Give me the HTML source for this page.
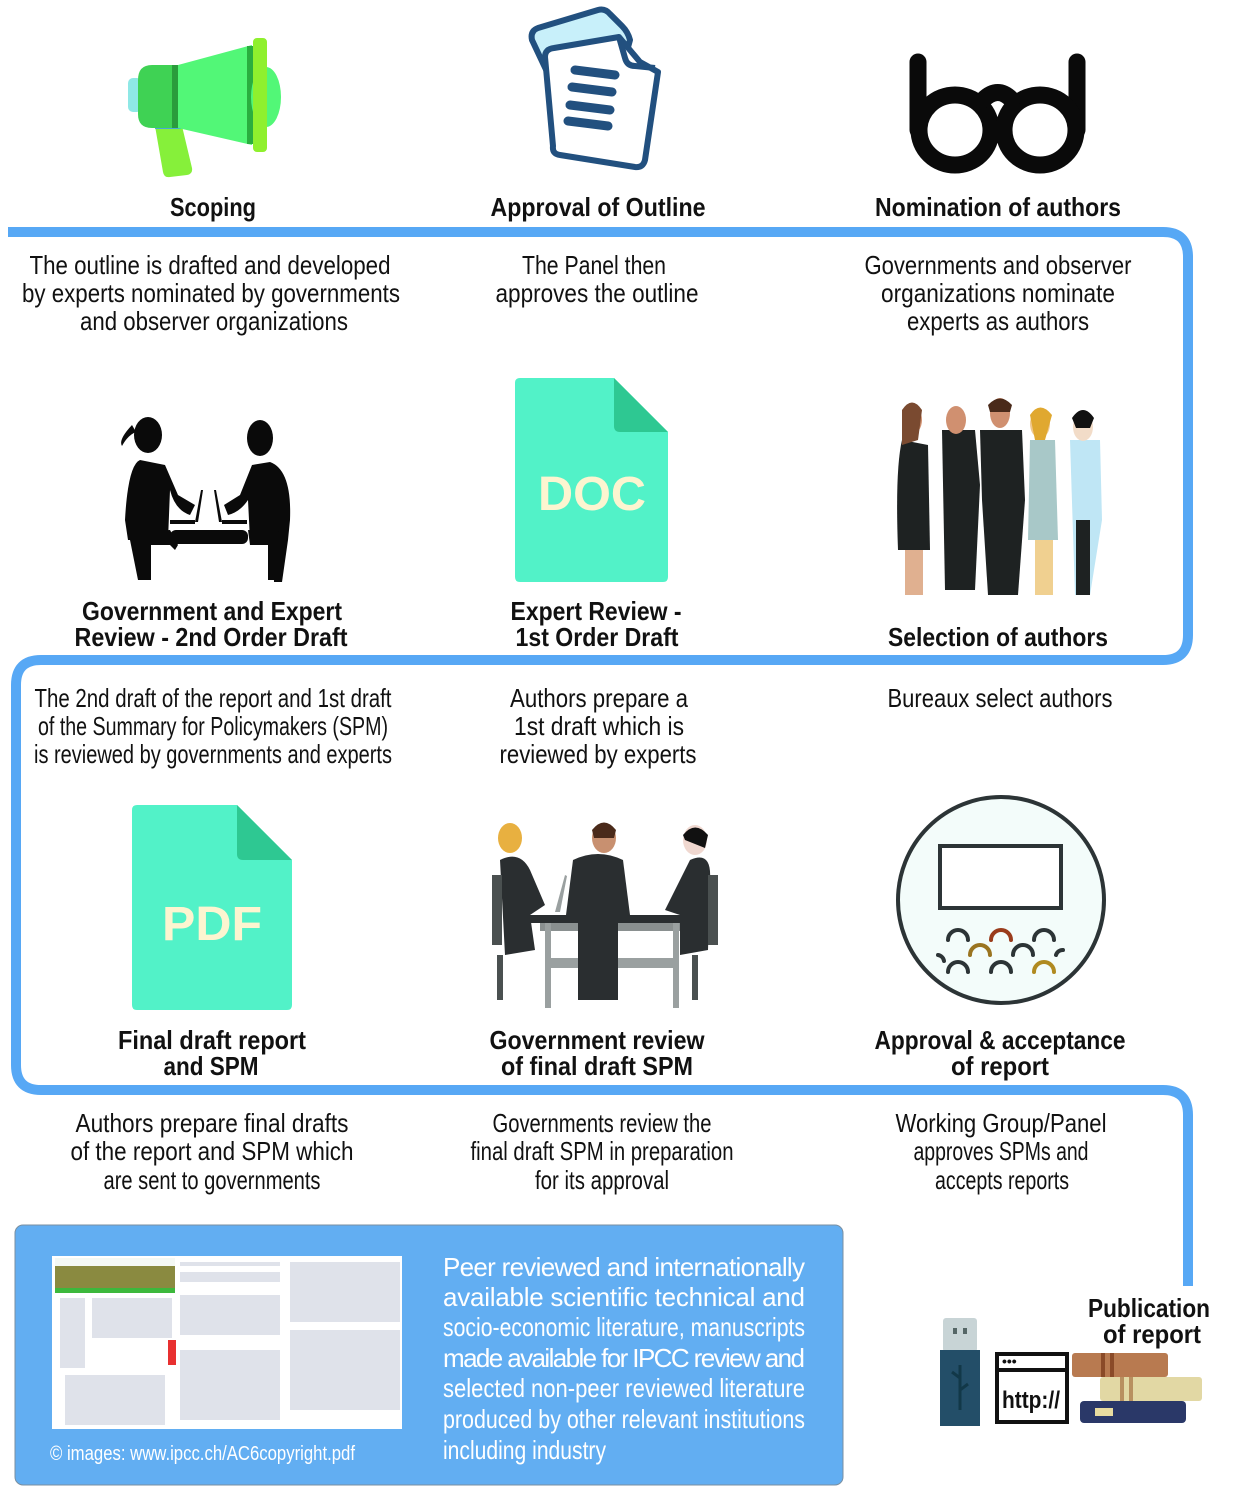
<!DOCTYPE html>
<html><head><meta charset="utf-8"><style>
html,body{margin:0;padding:0;background:#fff}
svg{display:block}
text{font-family:"Liberation Sans",sans-serif;fill:#111}
.d{font-size:26px}
.b{font-size:26px;font-weight:bold}
.w{font-size:26px;fill:#fff}
</style></head><body>
<svg width="1240" height="1488" viewBox="0 0 1240 1488" xmlns="http://www.w3.org/2000/svg">
<path d="M8,232 H1163 Q1188,232 1188,257 V635 Q1188,660 1163,660 H41 Q16,660 16,685 V1065 Q16,1090 41,1090 H1163 Q1188,1090 1188,1115 V1286" fill="none" stroke="#57a8f5" stroke-width="10"/>

<rect x="128" y="78" width="14" height="34" rx="5" fill="#8fe8e6"/>
<path d="M155,126 L182,126 L192,168 Q193,174 187,175 L170,177 Q164,178 163,172 Z" fill="#86f03a"/>
<rect x="155" y="124" width="26" height="5" fill="#4aa8d8"/>
<path d="M152,65 H177 V128 H152 Q138,128 138,114 V80 Q138,65 152,65 Z" fill="#3fd254"/>
<rect x="172" y="65" width="6" height="63" fill="#2a9c3c"/>
<path d="M178,65 L252,45 V145 L178,128 Z" fill="#52f777"/>
<rect x="247" y="46" width="6" height="98" fill="#2aae3f"/>
<ellipse cx="266" cy="97" rx="15" ry="30" fill="#52f777"/>
<rect x="253" y="38" width="14" height="114" rx="4" fill="#8ff02e"/>

<g stroke="#22507f" stroke-width="6" stroke-linejoin="round">
<path d="M538,28 L598,10 Q605,8 610,14 L622,26 Q628,32 630,40 L600,150 L565,110 L532,40 Q530,31 538,28 Z" fill="#c8f0fa"/>
<path d="M554,48 L619,37 L640,62 L658,72 L645,160 Q643,168 635,167 L560,155 Q552,154 553,146 L545,57 Q545,49 554,48 Z" fill="#fff"/>
<path d="M619,37 L625,58 Q627,66 635,66 L655,68" fill="none"/>
</g>
<g stroke="#22507f" stroke-width="9" stroke-linecap="round">
<line x1="575" y1="70" x2="615" y2="75"/>
<line x1="572" y1="87" x2="612" y2="92"/>
<line x1="570" y1="105" x2="610" y2="110"/>
<line x1="568" y1="121" x2="608" y2="126"/>
</g>

<g fill="none" stroke="#0a0a0a" stroke-width="17" stroke-linecap="round">
<line x1="918" y1="62" x2="918" y2="130"/>
<line x1="1077" y1="62" x2="1077" y2="130"/>
<ellipse cx="955" cy="130" rx="36" ry="35"/>
<ellipse cx="1040" cy="130" rx="36" ry="35"/>
<path d="M983,100 Q998,85 1012,100"/>
</g>

<g fill="#0a0a0a">
<ellipse cx="148" cy="435" rx="14" ry="18"/>
<path d="M132,425 Q118,440 122,446 Q128,435 136,432 Z"/>
<ellipse cx="260" cy="438" rx="13" ry="18"/>
<path d="M140,460 Q128,465 125,520 L128,540 L168,540 L170,490 Q175,510 190,515 L195,505 L178,495 L165,465 Z"/>
<path d="M130,540 L138,580 L146,580 L145,545 L170,545 L175,550 L178,545 L170,530 L130,532 Z"/>
<path d="M270,462 Q292,470 290,520 L288,540 L250,540 L248,500 Q240,512 228,515 L224,505 L240,495 L252,465 Z"/>
<path d="M288,540 L282,582 L274,582 L273,545 L250,545 L248,530 L288,532 Z"/>
<rect x="170" y="530" width="78" height="14" rx="6"/>
<rect x="170" y="520" width="25" height="4"/><rect x="222" y="520" width="25" height="4"/>
<path d="M195,522 L201,490 L203,490 L198,522 Z"/><path d="M222,522 L216,490 L214,490 L219,522 Z"/>
<rect x="145" y="545" width="6" height="35"/><rect x="268" y="545" width="6" height="35"/>
</g>

<path d="M520,378 H614 L668,432 V577 Q668,582 663,582 H520 Q515,582 515,577 V383 Q515,378 520,378 Z" fill="#52f2c8"/>
<path d="M614,378 L668,432 H620 Q614,432 614,426 Z" fill="#2ec892"/>
<text x="592" y="510" text-anchor="middle" style="font-size:48px;font-weight:bold;fill:#fcf5d0" textLength="108" lengthAdjust="spacingAndGlyphs">DOC</text>

<g>
<g fill="#1e2222">
<path d="M902,440 Q895,470 898,550 L930,550 L928,445 Z"/>
<path d="M942,430 L975,430 L980,485 L975,590 L945,590 Z"/>
<path d="M980,430 L1022,430 L1025,500 L1018,595 L988,595 L982,500 Z"/>
<path d="M1030,440 L1055,440 L1058,540 L1028,540 Z" fill="#a8c8c8"/>
<path d="M1070,440 L1100,440 L1102,520 L1090,595 L1075,595 Z" fill="#bfe6f5"/>
<rect x="1076" y="520" width="14" height="75"/>
<rect x="1035" y="540" width="18" height="55" fill="#f0d090"/>
<rect x="905" y="550" width="18" height="45" fill="#e0b090"/>
</g>
<g fill="#d09070">
<ellipse cx="912" cy="420" rx="10" ry="14"/><ellipse cx="956" cy="420" rx="10" ry="14"/>
<ellipse cx="1000" cy="413" rx="10" ry="15"/><ellipse cx="1040" cy="424" rx="10" ry="14" fill="#f0c890"/>
<ellipse cx="1083" cy="427" rx="10" ry="14" fill="#f2dcc8"/>
</g>
<path d="M902,410 Q912,395 922,410 L918,440 L902,445 Z" fill="#7a4a30"/>
<path d="M1030,415 Q1040,400 1052,415 L1045,440 L1035,440 Z" fill="#e0a830"/>
<path d="M1072,418 Q1083,402 1094,418 L1090,428 L1076,428 Z" fill="#111"/>
<path d="M988,405 Q1000,392 1012,405 L1010,412 L990,412 Z" fill="#4a2a1a"/>
</g>

<path d="M137,805 H237 L292,860 V1005 Q292,1010 287,1010 H137 Q132,1010 132,1005 V810 Q132,805 137,805 Z" fill="#52f2c8"/>
<path d="M237,805 L292,860 H243 Q237,860 237,854 Z" fill="#2ec892"/>
<text x="212" y="940" text-anchor="middle" style="font-size:48px;font-weight:bold;fill:#fcf5d0" textLength="100" lengthAdjust="spacingAndGlyphs">PDF</text>

<g>
<rect x="527" y="915" width="170" height="8" fill="#2a2e30"/>
<rect x="540" y="923" width="145" height="8" fill="#8a9090"/>
<rect x="545" y="923" width="6" height="85" fill="#9aa0a0"/><rect x="673" y="923" width="6" height="85" fill="#9aa0a0"/>
<rect x="545" y="958" width="134" height="10" fill="#9aa0a0"/>
<path d="M573,860 Q598,848 623,860 L630,915 L566,915 Z" fill="#2a2e30"/>
<rect x="578" y="915" width="40" height="85" fill="#2a2e30"/>
<ellipse cx="604" cy="838" rx="12" ry="15" fill="#c89070"/>
<path d="M592,830 Q604,815 616,830 L614,838 L594,838 Z" fill="#4a2a1a"/>
<path d="M500,860 Q520,850 530,870 L545,905 L530,915 L535,950 L505,955 Z" fill="#2a2e30"/>
<ellipse cx="510" cy="838" rx="12" ry="15" fill="#e8b040"/>
<rect x="492" y="875" width="10" height="70" fill="#4a5050"/>
<rect x="497" y="955" width="6" height="45" fill="#4a5050"/>
<path d="M690,860 Q712,850 710,880 L708,950 L680,955 L680,915 L665,910 Z" fill="#2a2e30"/>
<ellipse cx="695" cy="840" rx="12" ry="15" fill="#f0d8d0"/>
<path d="M683,835 Q695,820 708,835 L705,848 L685,840 Z" fill="#111"/>
<rect x="708" y="875" width="10" height="70" fill="#4a5050"/>
<rect x="692" y="955" width="6" height="45" fill="#4a5050"/>
<path d="M555,912 L565,875 L567,876 L560,912 Z" fill="#9aa0a0"/>
</g>

<circle cx="1001" cy="900" r="103" fill="#f3fcfa" stroke="#2c3436" stroke-width="4"/>
<rect x="940" y="846" width="121" height="62" fill="#fff" stroke="#2c3436" stroke-width="4"/>
<g fill="none" stroke-width="4" stroke-linecap="round">
<path d="M948,940 a10,10 0 0 1 20,0" stroke="#2c3436"/>
<path d="M991,940 a10,10 0 0 1 20,0" stroke="#9a3c1c"/>
<path d="M1034,940 a10,10 0 0 1 20,0" stroke="#2c3436"/>
<path d="M938,955 a7,7 0 0 1 6,6" stroke="#2c3436"/>
<path d="M970,955 a10,10 0 0 1 20,0" stroke="#9a7420"/>
<path d="M1013,955 a10,10 0 0 1 20,0" stroke="#2c3436"/>
<path d="M1056,955 a7,7 0 0 1 7,-5" stroke="#2c3436"/>
<path d="M948,972 a10,10 0 0 1 20,0" stroke="#2c3436"/>
<path d="M991,972 a10,10 0 0 1 20,0" stroke="#2c3436"/>
<path d="M1034,972 a10,10 0 0 1 20,0" stroke="#b08a20"/>
</g>

<rect x="15" y="1225" width="828" height="260" rx="8" fill="#62aef2" stroke="#7a8fa0" stroke-width="1"/>
<rect x="52" y="1256" width="350" height="173" fill="#fff"/>
<rect x="55" y="1258" width="120" height="8" fill="#f4f8f4"/>
<rect x="55" y="1266" width="120" height="22" fill="#8a8a40"/>
<rect x="55" y="1288" width="120" height="5" fill="#3cb83c"/>
<g fill="#dfe2ea">
<rect x="60" y="1298" width="25" height="70"/><rect x="92" y="1298" width="80" height="40"/>
<rect x="180" y="1262" width="100" height="4"/><rect x="180" y="1272" width="100" height="10"/>
<rect x="180" y="1295" width="100" height="40"/><rect x="180" y="1350" width="100" height="70"/>
<rect x="290" y="1262" width="110" height="60"/><rect x="290" y="1330" width="110" height="80"/>
<rect x="65" y="1375" width="100" height="50"/>
</g>
<rect x="168" y="1340" width="8" height="25" fill="#e83030"/>

<rect x="943" y="1318" width="34" height="34" rx="3" fill="#c8d4d6"/>
<rect x="953" y="1328" width="4" height="6" fill="#566"/><rect x="963" y="1328" width="4" height="6" fill="#566"/>
<rect x="940" y="1350" width="40" height="76" fill="#234e68"/>
<path d="M960,1365 V1410 M960,1378 l-8,-6 M960,1390 l8,-6" stroke="#123848" stroke-width="3" fill="none"/>
<rect x="997" y="1354" width="70" height="68" fill="#fff" stroke="#111" stroke-width="4"/>
<line x1="997" y1="1370" x2="1067" y2="1370" stroke="#111" stroke-width="4"/>
<text x="1002" y="1366" style="font-size:14px;font-weight:bold">•••</text>
<text x="1031" y="1408" text-anchor="middle" style="font-size:24px;font-weight:bold" textLength="58" lengthAdjust="spacingAndGlyphs">http://</text>
<rect x="1072" y="1353" width="96" height="24" rx="3" fill="#b87a50"/>
<rect x="1101" y="1353" width="4" height="24" fill="#8a4a28"/><rect x="1110" y="1353" width="4" height="24" fill="#8a4a28"/>
<rect x="1100" y="1377" width="102" height="24" rx="3" fill="#e2d8a4"/>
<rect x="1120" y="1377" width="4" height="24" fill="#b89060"/><rect x="1129" y="1377" width="4" height="24" fill="#b89060"/>
<rect x="1080" y="1401" width="106" height="22" rx="4" fill="#2a3868"/>
<rect x="1095" y="1408" width="18" height="8" fill="#e8dca0"/>

<text class="b" x="213" y="216" text-anchor="middle" textLength="86" lengthAdjust="spacingAndGlyphs">Scoping</text>
<text class="b" x="598" y="216" text-anchor="middle" textLength="215" lengthAdjust="spacingAndGlyphs">Approval of Outline</text>
<text class="b" x="998" y="216" text-anchor="middle" textLength="246" lengthAdjust="spacingAndGlyphs">Nomination of authors</text>
<text class="b" x="212" y="620" text-anchor="middle" textLength="260" lengthAdjust="spacingAndGlyphs">Government and Expert</text>
<text class="b" x="211" y="646" text-anchor="middle" textLength="273" lengthAdjust="spacingAndGlyphs">Review - 2nd Order Draft</text>
<text class="b" x="596" y="620" text-anchor="middle" textLength="171" lengthAdjust="spacingAndGlyphs">Expert Review -</text>
<text class="b" x="597" y="646" text-anchor="middle" textLength="163" lengthAdjust="spacingAndGlyphs">1st Order Draft</text>
<text class="b" x="998" y="646" text-anchor="middle" textLength="220" lengthAdjust="spacingAndGlyphs">Selection of authors</text>
<text class="b" x="212" y="1049" text-anchor="middle" textLength="188" lengthAdjust="spacingAndGlyphs">Final draft report</text>
<text class="b" x="211" y="1075" text-anchor="middle" textLength="95" lengthAdjust="spacingAndGlyphs">and SPM</text>
<text class="b" x="597" y="1049" text-anchor="middle" textLength="215" lengthAdjust="spacingAndGlyphs">Government review</text>
<text class="b" x="597" y="1075" text-anchor="middle" textLength="192" lengthAdjust="spacingAndGlyphs">of final draft SPM</text>
<text class="b" x="1000" y="1049" text-anchor="middle" textLength="251" lengthAdjust="spacingAndGlyphs">Approval &amp; acceptance</text>
<text class="b" x="1000" y="1075" text-anchor="middle" textLength="98" lengthAdjust="spacingAndGlyphs">of report</text>
<text class="b" x="1149" y="1317" text-anchor="middle" textLength="122" lengthAdjust="spacingAndGlyphs">Publication</text>
<text class="b" x="1152" y="1343" text-anchor="middle" textLength="98" lengthAdjust="spacingAndGlyphs">of report</text>

<text class="d" x="210" y="274" text-anchor="middle" textLength="361" lengthAdjust="spacingAndGlyphs">The outline is drafted and developed</text>
<text class="d" x="211" y="302" text-anchor="middle" textLength="378" lengthAdjust="spacingAndGlyphs">by experts nominated by governments</text>
<text class="d" x="214" y="330" text-anchor="middle" textLength="268" lengthAdjust="spacingAndGlyphs">and observer organizations</text>
<text class="d" x="594" y="274" text-anchor="middle" textLength="144" lengthAdjust="spacingAndGlyphs">The Panel then</text>
<text class="d" x="597" y="302" text-anchor="middle" textLength="203" lengthAdjust="spacingAndGlyphs">approves the outline</text>
<text class="d" x="998" y="274" text-anchor="middle" textLength="267" lengthAdjust="spacingAndGlyphs">Governments and observer</text>
<text class="d" x="998" y="302" text-anchor="middle" textLength="234" lengthAdjust="spacingAndGlyphs">organizations nominate</text>
<text class="d" x="998" y="330" text-anchor="middle" textLength="182" lengthAdjust="spacingAndGlyphs">experts as authors</text>

<text class="d" x="213" y="707" text-anchor="middle" textLength="357" lengthAdjust="spacingAndGlyphs">The 2nd draft of the report and 1st draft</text>
<text class="d" x="213" y="735" text-anchor="middle" textLength="350" lengthAdjust="spacingAndGlyphs">of the Summary for Policymakers (SPM)</text>
<text class="d" x="213" y="763" text-anchor="middle" textLength="358" lengthAdjust="spacingAndGlyphs">is reviewed by governments and experts</text>
<text class="d" x="599" y="707" text-anchor="middle" textLength="178" lengthAdjust="spacingAndGlyphs">Authors prepare a</text>
<text class="d" x="599" y="735" text-anchor="middle" textLength="170" lengthAdjust="spacingAndGlyphs">1st draft which is</text>
<text class="d" x="598" y="763" text-anchor="middle" textLength="197" lengthAdjust="spacingAndGlyphs">reviewed by experts</text>
<text class="d" x="1000" y="707" text-anchor="middle" textLength="225" lengthAdjust="spacingAndGlyphs">Bureaux select authors</text>

<text class="d" x="212" y="1132" text-anchor="middle" textLength="273" lengthAdjust="spacingAndGlyphs">Authors prepare final drafts</text>
<text class="d" x="212" y="1160" text-anchor="middle" textLength="283" lengthAdjust="spacingAndGlyphs">of the report and SPM which</text>
<text class="d" x="212" y="1189" text-anchor="middle" textLength="217" lengthAdjust="spacingAndGlyphs">are sent to governments</text>
<text class="d" x="602" y="1132" text-anchor="middle" textLength="219" lengthAdjust="spacingAndGlyphs">Governments review the</text>
<text class="d" x="602" y="1160" text-anchor="middle" textLength="263" lengthAdjust="spacingAndGlyphs">final draft SPM in preparation</text>
<text class="d" x="602" y="1189" text-anchor="middle" textLength="134" lengthAdjust="spacingAndGlyphs">for its approval</text>
<text class="d" x="1001" y="1132" text-anchor="middle" textLength="211" lengthAdjust="spacingAndGlyphs">Working Group/Panel</text>
<text class="d" x="1001" y="1160" text-anchor="middle" textLength="175" lengthAdjust="spacingAndGlyphs">approves SPMs and</text>
<text class="d" x="1002" y="1189" text-anchor="middle" textLength="134" lengthAdjust="spacingAndGlyphs">accepts reports</text>

<text class="w" x="443" y="1276" textLength="362" lengthAdjust="spacing">Peer reviewed and internationally</text>
<text class="w" x="443" y="1306" textLength="362" lengthAdjust="spacing">available scientific technical and</text>
<text class="w" x="443" y="1336" textLength="362" lengthAdjust="spacingAndGlyphs">socio-economic literature, manuscripts</text>
<text class="w" x="443" y="1367" textLength="362" lengthAdjust="spacing">made available for IPCC review and</text>
<text class="w" x="443" y="1397" textLength="362" lengthAdjust="spacingAndGlyphs">selected non-peer reviewed literature</text>
<text class="w" x="443" y="1428" textLength="362" lengthAdjust="spacingAndGlyphs">produced by other relevant institutions</text>
<text class="w" x="443" y="1459" textLength="163" lengthAdjust="spacingAndGlyphs">including industry</text>
<text x="50" y="1460" style="font-size:20px;fill:#fff" textLength="305" lengthAdjust="spacingAndGlyphs">© images:  www.ipcc.ch/AC6copyright.pdf</text>
</svg>
</body></html>
